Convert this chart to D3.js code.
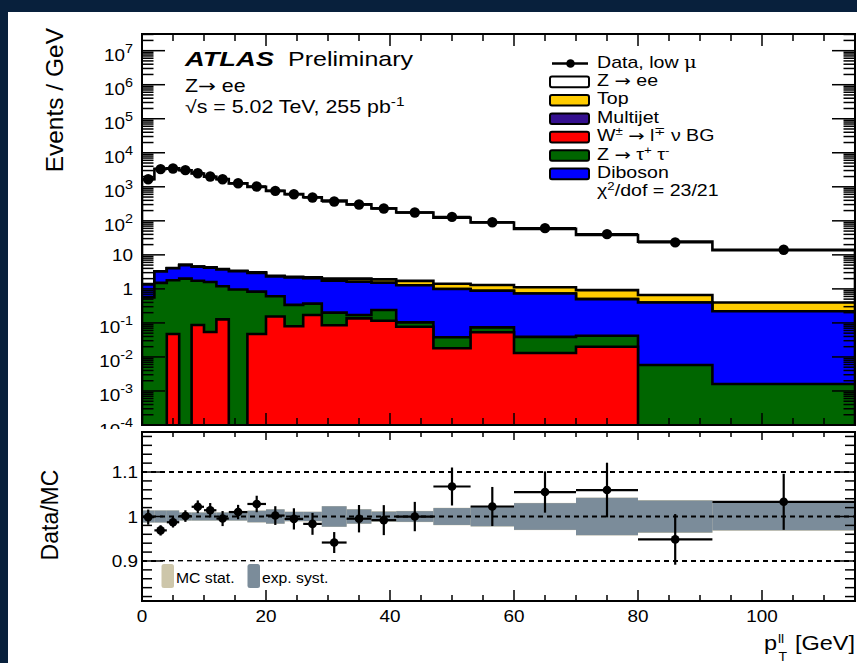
<!DOCTYPE html>
<html>
<head>
<meta charset="utf-8">
<script src="https://cdn.jsdelivr.net/npm/d3@7"></script>
<style>
  html, body { margin: 0; padding: 0; background: #08203c; }
  svg { display: block; }
</style>
</head>
<body>
<svg id="chart" width="857" height="663"></svg>
<script>
// ---------------------------------------------------------------
// Z -> ee transverse momentum at sqrt(s) = 5.02 TeV, low-mu run
// ---------------------------------------------------------------

// bin edges of p_T^ll in GeV
const binEdges = [0, 2, 4, 6, 8, 10, 12, 14, 17, 20, 23, 26, 29, 33, 37, 41, 47, 53, 60, 70, 80, 92, 115];

// observed events / GeV and relative statistical uncertainty
const dataEvents = [1670, 3300, 3450, 3080, 2500, 2000, 1670, 1270, 1020, 760, 605, 485, 370, 302, 231, 176, 131, 91, 61, 40.6, 23.2, 14.1];
const dataRelErr = [0.017, 0.012, 0.012, 0.013, 0.014, 0.016, 0.017, 0.016, 0.018, 0.021, 0.024, 0.025, 0.025, 0.031, 0.034, 0.033, 0.040, 0.043, 0.044, 0.058, 0.060, 0.061];

// simulated contributions, events / GeV
const zeeMC      = [1671, 3403, 3491, 3072, 2442, 1968, 1674, 1254, 989, 756, 606, 491, 391, 301.5, 231, 174.3, 121.3, 87.7, 56.7, 37.4, 23.8, 13.25];
const topMC      = [0.02, 0.05, 0.05, 0.1, 0.1, 0.1, 0.1, 0.1, 0.1, 0.12, 0.12, 0.13, 0.25, 0.38, 0.38, 0.44, 0.43, 0.42, 0.39, 0.42, 0.26, 0.18];
const multijetMC = [0.003, 0.004, 0.004, 0.003, 0.003, 0.002, 0.002, 0.002, 0.002, 0.001, 0.001, 0.001, 0.001, 0.001, 0.001, 0.001, 0.001, 0, 0, 0, 0, 0];
const wMC        = [0, 0, 0.047, 0, 0.087, 0.054, 0.127, 0, 0.047, 0.155, 0.08, 0.17, 0.085, 0.136, 0.116, 0.077, 0.018, 0.053, 0.013, 0.020, 0, 0];
const zttMC      = [0.56, 1.5, 1.753, 2.0, 1.643, 1.546, 1.073, 0.96, 0.783, 0.455, 0.26, 0.20, 0.115, 0.034, 0.124, 0.027, 0.020, 0.021, 0.026, 0.022, 0.0058, 0.0016];
const dibosonMC  = [0.80, 1.75, 2.25, 3.0, 2.72, 2.6, 2.5, 2.34, 2.12, 1.69, 1.81, 1.68, 1.55, 1.45, 1.28, 1.176, 0.952, 0.806, 0.691, 0.458, 0.394, 0.218];

// relative uncertainties on the prediction
const systRel   = [0.0135, 0.0135, 0.0135, 0.009, 0.009, 0.009, 0.009, 0.009, 0.013, 0.016, 0.0105, 0.0105, 0.023, 0.016, 0.011, 0.012, 0.019, 0.022, 0.030, 0.042, 0.036, 0.031];
const mcStatRel = [0.002, 0.002, 0.002, 0.002, 0.002, 0.002, 0.002, 0.002, 0.003, 0.003, 0.003, 0.003, 0.003, 0.004, 0.004, 0.004, 0.005, 0.005, 0.006, 0.007, 0.008, 0.008];

// axis tick labels
const xTickLabels = [0, 20, 40, 60, 80, 100];
const logDecades = [-4, -3, -2, -1, 0, 1, 2, 3, 4, 5, 6, 7];
const ratioTickLabels = [0.9, 1.0, 1.1];

// ---------------------------------------------------------------
const W = 857, H = 663;
const svg = d3.select("#chart");
const FONT = "'Liberation Sans', Arial, Helvetica, sans-serif";
const ARROW = "'DejaVu Sans', sans-serif";

const left = 142, right = 855;
const upTop = 34, upBot = 425;
const loTop = 432, loBot = 601;

const x = d3.scaleLinear().domain([0, 115]).range([left, right]);
const y = d3.scaleLog().domain([1e-4, Math.pow(10, 7.49)]).range([upBot, upTop]);
const yr = d3.scaleLinear().domain([0.81, 1.19]).range([loBot, loTop]);

const nBins = binEdges.length - 1;
const centers = d3.range(nBins).map(i => (binEdges[i] + binEdges[i + 1]) / 2);

// text helper: parts are [string, kind, family]; kind = "sup" | "sub"
function label(parent, px, py, size, parts, o = {}) {
  const g = parent.append("g")
    .attr("transform", `translate(${px},${py}) scale(${o.sx ?? 1.2},1)`);
  const t = g.append("text")
    .attr("font-size", size)
    .attr("font-family", o.family || FONT)
    .attr("text-anchor", o.anchor || "start")
    .attr("fill", "#000");
  if (o.weight) t.attr("font-weight", o.weight);
  if (o.italic) t.attr("font-style", "italic");
  const supScale = o.supScale ?? 0.72;
  const supRise = o.supRise ?? 0.42;
  let shift = 0;
  (typeof parts === "string" ? [[parts]] : parts).forEach(([s, kind, fam]) => {
    const target = kind === "sup" ? -size * supRise : kind === "sub" ? size * 0.3 : 0;
    const ts = t.append("tspan").text(s).attr("dy", target - shift);
    shift = target;
    if (kind) ts.attr("font-size", size * supScale);
    if (fam) ts.attr("font-family", fam);
  });
  return g;
}

// background and page
svg.append("rect").attr("width", W).attr("height", H).attr("fill", "#08203c");
svg.append("rect").attr("x", 8).attr("y", 12).attr("width", W - 8).attr("height", H - 12).attr("fill", "#fff");

// ---------------------------------------------------------------
// upper panel: stacked prediction
const keys = ["w", "ztt", "diboson", "multijet", "top", "zee"];
const colors = { w: "#ff0000", ztt: "#006600", diboson: "#0000ff", multijet: "#35108f", top: "#ffcc00", zee: "#ffffff" };
const rows = d3.range(nBins).map(i => ({
  w: wMC[i], ztt: zttMC[i], diboson: dibosonMC[i], multijet: multijetMC[i], top: topMC[i], zee: zeeMC[i]
}));
const stacked = d3.stack().keys(keys)(rows);
const mcSum = rows.map(r => d3.sum(keys, k => r[k]));

const defs = svg.append("defs");
defs.append("clipPath").attr("id", "clipUp").append("rect")
  .attr("x", left).attr("y", upTop).attr("width", right - left).attr("height", upBot - upTop);

const up = svg.append("g").attr("clip-path", "url(#clipUp)");

const floorVal = 1e-6;
const stepArea = d3.area()
  .curve(d3.curveStepAfter)
  .x(d => x(d.x))
  .y0(upBot + 20)
  .y1(d => y(Math.max(d.v, floorVal)));

function stepPoints(vals) {
  const pts = vals.map((v, i) => ({ x: binEdges[i], v }));
  pts.push({ x: binEdges[nBins], v: vals[nBins - 1] });
  return pts;
}

// draw from the highest cumulative level down so every level keeps its outline
for (let k = stacked.length - 1; k >= 0; k--) {
  const layer = stacked[k];
  const tops = layer.map(d => d[1]);
  up.append("path")
    .attr("d", stepArea(stepPoints(tops)))
    .attr("fill", colors[layer.key])
    .attr("stroke", "#000")
    .attr("stroke-width", 2.6)
    .attr("stroke-linejoin", "miter");
}

// data points
const dataG = up.append("g");
dataEvents.forEach((v, i) => {
  dataG.append("line")
    .attr("x1", x(binEdges[i])).attr("x2", x(binEdges[i + 1]))
    .attr("y1", y(v)).attr("y2", y(v))
    .attr("stroke", "#000").attr("stroke-width", 2.4);
  dataG.append("line")
    .attr("x1", x(centers[i])).attr("x2", x(centers[i]))
    .attr("y1", y(v * (1 - dataRelErr[i]))).attr("y2", y(v * (1 + dataRelErr[i])))
    .attr("stroke", "#000").attr("stroke-width", 2.4);
  dataG.append("circle")
    .attr("cx", x(centers[i])).attr("cy", y(v)).attr("r", 5.2).attr("fill", "#000");
});

// upper axes ticks
const xMajor = d3.range(0, 116, 20);
const xMinor = d3.range(0, 116, 5).filter(v => v % 20 !== 0);
const yMajor = logDecades.map(e => Math.pow(10, e));
const yMinor = logDecades.flatMap(e => d3.range(2, 10).map(m => m * Math.pow(10, e)))
  .filter(v => v <= y.domain()[1]);

function tickLines(g, list) {
  g.selectAll(null).data(list).join("line")
    .attr("x1", d => d[0]).attr("y1", d => d[1]).attr("x2", d => d[2]).attr("y2", d => d[3])
    .attr("stroke", "#000").attr("stroke-width", 1.5);
}

const axUp = svg.append("g");
tickLines(axUp, [
  ...yMajor.map(v => [left, y(v), left + 23, y(v)]),
  ...yMinor.map(v => [left, y(v), left + 11.5, y(v)]),
  ...yMajor.map(v => [right, y(v), right - 23, y(v)]),
  ...yMinor.map(v => [right, y(v), right - 11.5, y(v)]),
  ...xMajor.map(v => [x(v), upTop, x(v), upTop + 12]),
  ...xMinor.map(v => [x(v), upTop, x(v), upTop + 7]),
  ...xMajor.map(v => [x(v), upBot, x(v), upBot - 12]),
  ...xMinor.map(v => [x(v), upBot, x(v), upBot - 7])
]);
svg.append("rect").attr("x", left).attr("y", upTop).attr("width", right - left).attr("height", upBot - upTop)
  .attr("fill", "none").attr("stroke", "#000").attr("stroke-width", 2);

// log-axis labels
logDecades.forEach(e => {
  const v = Math.pow(10, e);
  if (e === 0) label(svg, 133, y(v) + 6, 16.3, "1", { anchor: "end", sx: 1.16 });
  else if (e === 1) label(svg, 133, y(v) + 6, 16.3, "10", { anchor: "end", sx: 1.16 });
  else label(svg, 133, y(v) + 10.5, 16.3, [["10"], [String(e), "sup"]],
    { anchor: "end", sx: 1.16, supScale: 0.76, supRise: 0.5 });
});

// axis title
svg.append("text")
  .attr("transform", `translate(63,28) rotate(-90)`)
  .attr("text-anchor", "end")
  .attr("font-family", FONT).attr("font-size", 24.5)
  .text("Events / GeV");

// ATLAS label block
label(svg, 185, 66, 21, "ATLAS", { weight: "bold", italic: true, sx: 1.3 });
label(svg, 288, 66, 20.5, "Preliminary", { sx: 1.22 });
label(svg, 185, 91.7, 17.5, [["Z"], ["\u2192", null, ARROW], [" ee"]], { sx: 1.22 });
label(svg, 185, 113.3, 17.5, [["\u221As = 5.02 TeV, 255 pb"], ["-1", "sup"]], { sx: 1.22 });

// legend
const legX = 550, legW = 39, legTextX = 597;
const legBase = 67.5, legStep = 18.4;
const legendEntries = [
  { kind: "data", parts: [["Data, low "], ["\u03BC", null, "'DejaVu Serif', serif"]] },
  { kind: "box", key: "zee", parts: [["Z "], ["\u2192", null, ARROW], [" ee"]] },
  { kind: "box", key: "top", parts: [["Top"]] },
  { kind: "box", key: "multijet", parts: [["Multijet"]] },
  { kind: "box", key: "w", parts: [["W"], ["\u00B1", "sup"], [" "], ["\u2192", null, ARROW], [" l"], ["\u2213", "sup"], [" \u03BD BG"]] },
  { kind: "box", key: "ztt", parts: [["Z "], ["\u2192", null, ARROW], [" \u03C4"], ["+", "sup"], [" \u03C4"], ["-", "sup"]] },
  { kind: "box", key: "diboson", parts: [["Diboson"]] },
  { kind: "text", parts: [["\u03C7"], ["2", "sup"], ["/dof = 23/21"]] }
];
const leg = svg.append("g");
legendEntries.forEach((e, i) => {
  const base = legBase + i * legStep;
  const cy = base - 4;
  if (e.kind === "data") {
    leg.append("line").attr("x1", legX + 2).attr("x2", legX + legW - 1).attr("y1", cy).attr("y2", cy)
      .attr("stroke", "#000").attr("stroke-width", 2.4);
    leg.append("circle").attr("cx", legX + legW / 2 + 1).attr("cy", cy).attr("r", 4.3).attr("fill", "#000");
  } else if (e.kind === "box") {
    leg.append("rect").attr("x", legX).attr("y", cy - 5.3).attr("width", legW).attr("height", 10.6)
      .attr("rx", 2).attr("fill", colors[e.key]).attr("stroke", "#000").attr("stroke-width", 2);
  }
  label(leg, legTextX, base, 15.8, e.parts, { sx: 1.24, supRise: 0.38, supScale: 0.68 });
});

// ---------------------------------------------------------------
// lower panel: data / prediction
svg.append("rect").attr("x", 8).attr("y", 429).attr("width", W - 8).attr("height", H - 429).attr("fill", "#fff");

const lo = svg.append("g");
const ratio = dataEvents.map((v, i) => v / mcSum[i]);

// uncertainty bands
d3.range(nBins).forEach(i => {
  const tot = Math.sqrt(systRel[i] ** 2 + mcStatRel[i] ** 2);
  lo.append("rect")
    .attr("x", x(binEdges[i])).attr("width", x(binEdges[i + 1]) - x(binEdges[i]))
    .attr("y", yr(1 + tot)).attr("height", yr(1 - tot) - yr(1 + tot))
    .attr("fill", "#cdc6aa");
});
d3.range(nBins).forEach(i => {
  lo.append("rect")
    .attr("x", x(binEdges[i])).attr("width", x(binEdges[i + 1]) - x(binEdges[i]))
    .attr("y", yr(1 + systRel[i])).attr("height", yr(1 - systRel[i]) - yr(1 + systRel[i]))
    .attr("fill", "#7b8c9a");
});

// reference lines
ratioTickLabels.forEach(v => {
  lo.append("line").attr("x1", left).attr("x2", right).attr("y1", yr(v)).attr("y2", yr(v))
    .attr("stroke", "#000").attr("stroke-width", 2).attr("stroke-dasharray", "5,4");
});

// band legend with its white box
lo.append("rect").attr("x", 156).attr("y", yr(0.9) + 0.4).attr("width", 202).attr("height", 36).attr("fill", "#fff");
lo.append("rect").attr("x", 161.5).attr("y", 564).attr("width", 12.5).attr("height", 24).attr("rx", 2.5).attr("fill", "#cdc6aa");
lo.append("rect").attr("x", 247.5).attr("y", 564).attr("width", 12.5).attr("height", 24).attr("rx", 2.5).attr("fill", "#7b8c9a");
label(lo, 176, 583.3, 15, "MC stat.", { sx: 1.05 });
label(lo, 262, 583.3, 15, "exp. syst.", { sx: 1.05 });

// ratio points
ratio.forEach((r, i) => {
  const e = r * dataRelErr[i];
  lo.append("line").attr("x1", x(binEdges[i])).attr("x2", x(binEdges[i + 1])).attr("y1", yr(r)).attr("y2", yr(r))
    .attr("stroke", "#000").attr("stroke-width", 2.2);
  lo.append("line").attr("x1", x(centers[i])).attr("x2", x(centers[i])).attr("y1", yr(r - e)).attr("y2", yr(r + e))
    .attr("stroke", "#000").attr("stroke-width", 2.2);
  lo.append("circle").attr("cx", x(centers[i])).attr("cy", yr(r)).attr("r", 4.3).attr("fill", "#000");
});

// lower axes
const rMajor = ratioTickLabels;
const rMinor = d3.range(0.82, 1.19, 0.02).filter(v => !rMajor.some(m => Math.abs(m - v) < 1e-6));
const axLo = svg.append("g");
tickLines(axLo, [
  ...rMajor.map(v => [left, yr(v), left + 21, yr(v)]),
  ...rMinor.map(v => [left, yr(v), left + 10, yr(v)]),
  ...rMajor.map(v => [right, yr(v), right - 21, yr(v)]),
  ...rMinor.map(v => [right, yr(v), right - 10, yr(v)]),
  ...xMajor.map(v => [x(v), loTop, x(v), loTop + 8]),
  ...xMinor.map(v => [x(v), loTop, x(v), loTop + 5]),
  ...xMajor.map(v => [x(v), loBot, x(v), loBot - 11]),
  ...xMinor.map(v => [x(v), loBot, x(v), loBot - 6])
]);
svg.append("rect").attr("x", left).attr("y", loTop).attr("width", right - left).attr("height", loBot - loTop)
  .attr("fill", "none").attr("stroke", "#000").attr("stroke-width", 2);

ratioTickLabels.forEach(v => {
  label(svg, 138, yr(v) + 6, 16.3, v === 1 ? "1" : String(v), { anchor: "end", sx: 1.16 });
});
xTickLabels.forEach(v => {
  label(svg, x(v), 621.7, 16.3, String(v), { anchor: "middle", sx: 1.16 });
});

svg.append("text")
  .attr("transform", `translate(58,515) rotate(-90)`)
  .attr("text-anchor", "middle")
  .attr("font-family", FONT).attr("font-size", 23)
  .text("Data/MC");

// x-axis title
label(svg, 764, 650, 21, "p", { sx: 1.12 });
label(svg, 778, 643, 12.5, "ll", { sx: 1.12 });
label(svg, 778.5, 661, 12.5, "T", { sx: 1.12 });
label(svg, 855, 650, 21, "[GeV]", { anchor: "end", sx: 1.12 });
</script>
</body>
</html>
